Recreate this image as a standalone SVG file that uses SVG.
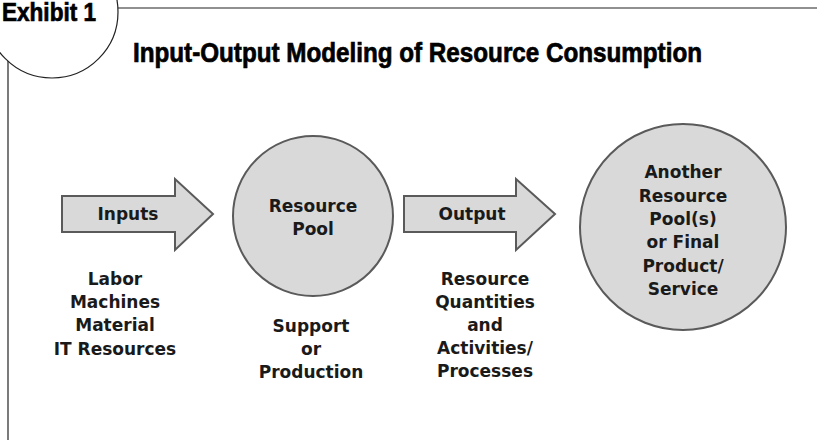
<svg xmlns="http://www.w3.org/2000/svg" width="817" height="440" viewBox="0 0 817 440">
<style>
.frame{fill:none;stroke:#222;stroke-width:1.2}
.shape{fill:#d9d9d9;stroke:#5a5a5a;stroke-width:2}
.lbl{font-family:"DejaVu Sans","Liberation Sans",sans-serif;font-weight:bold;font-size:17px;fill:#1a1a1a;text-anchor:middle}
.head{font-family:"Liberation Sans",Arial,sans-serif;font-weight:bold;fill:#000;stroke:#000;stroke-width:0.7}
</style>
<rect width="817" height="440" fill="#fff"/>
<g id="frame">
<circle class="frame" cx="52" cy="12" r="66"/>
<line class="frame" x1="118" y1="8" x2="817" y2="8"/>
<line class="frame" x1="8" y1="61" x2="8" y2="440"/>
<text class="head" x="2" y="21" font-size="25" textLength="94" lengthAdjust="spacingAndGlyphs">Exhibit 1</text>
</g>
<text class="head" id="title" x="133" y="62" font-size="28" textLength="569" lengthAdjust="spacingAndGlyphs">Input-Output Modeling of Resource Consumption</text>
<g id="connectors">
<g id="inputs-arrow">
<polygon class="shape" points="62,196 175,196 175,179 213,214 175,250 175,232 62,232"/>
<text class="lbl" x="128" y="220">Inputs</text>
</g>
<g id="output-arrow">
<polygon class="shape" points="404,196 516,196 516,179 555,214 516,250 516,232 404,232"/>
<text class="lbl" x="472" y="220">Output</text>
</g>
</g>
<g id="inputs-list">
<text class="lbl" x="115" y="285">Labor</text>
<text class="lbl" x="115" y="308">Machines</text>
<text class="lbl" x="115" y="331">Material</text>
<text class="lbl" x="115" y="355">IT Resources</text>
</g>
<g id="resource-pool">
<circle class="shape" cx="313" cy="216" r="80"/>
<text class="lbl" x="313" y="212">Resource</text>
<text class="lbl" x="313" y="235">Pool</text>
</g>
<g id="pool-type">
<text class="lbl" x="311" y="332">Support</text>
<text class="lbl" x="311" y="355">or</text>
<text class="lbl" x="311" y="378">Production</text>
</g>
<g id="output-list">
<text class="lbl" x="485" y="285">Resource</text>
<text class="lbl" x="485" y="308">Quantities</text>
<text class="lbl" x="485" y="331">and</text>
<text class="lbl" x="485" y="354">Activities/</text>
<text class="lbl" x="485" y="377">Processes</text>
</g>
<g id="another-pool">
<circle class="shape" cx="683" cy="227" r="103"/>
<text class="lbl" x="683" y="178">Another</text>
<text class="lbl" x="683" y="202">Resource</text>
<text class="lbl" x="683" y="225">Pool(s)</text>
<text class="lbl" x="683" y="248">or Final</text>
<text class="lbl" x="683" y="272">Product/</text>
<text class="lbl" x="683" y="295">Service</text>
</g>
</svg>
